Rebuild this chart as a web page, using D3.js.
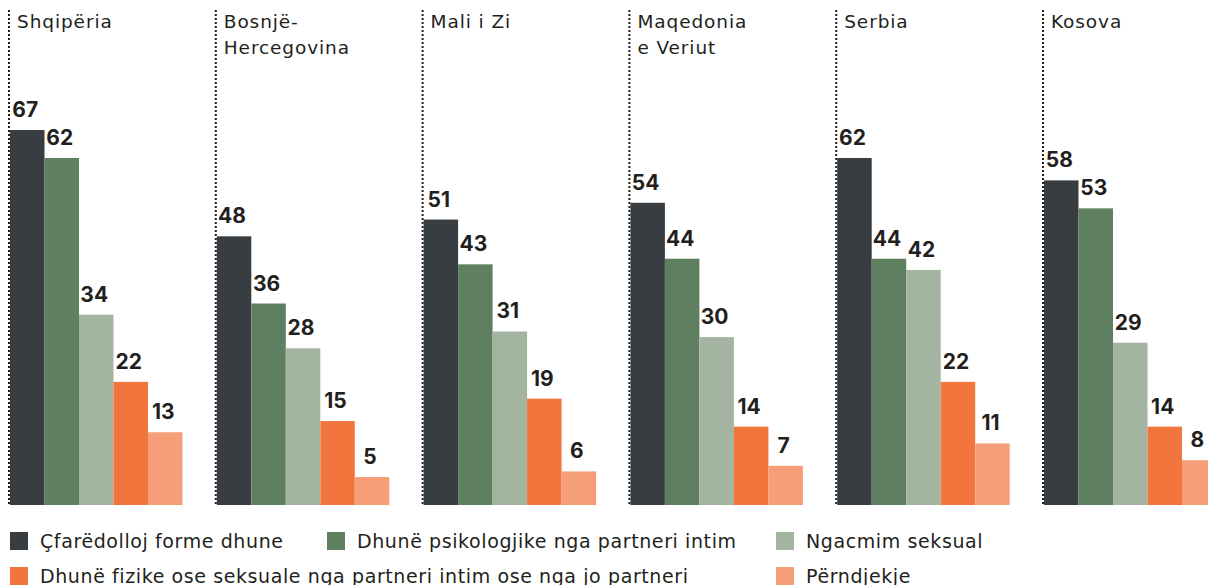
<!DOCTYPE html>
<meta charset="utf-8">
<title>Dhuna ndaj grave</title>
<style>
body { margin: 0; background: #fff; }
svg { display: block; font-family: "DejaVu Sans", sans-serif; }
.grp-label { font-size: 18.5px; letter-spacing: 0.9px; fill: #231f20; }
.val { font-family: "Inter", sans-serif; font-size: 21px; font-weight: 700; fill: #231f20; }
.legend text { font-size: 19px; letter-spacing: 0.6px; fill: #231f20; }
</style>
<svg width="1208" height="585"></svg>
<script src="https://cdn.jsdelivr.net/npm/d3@7"></script>
<script>

// countries (group labels, split on lines)
var countries = ["Shqipëria", "Bosnjë-Hercegovina", "Mali i Zi", "Maqedonia e Veriut", "Serbia", "Kosova"];
var countryLines = [["Shqipëria"], ["Bosnjë-", "Hercegovina"], ["Mali i Zi"], ["Maqedonia", "e Veriut"], ["Serbia"], ["Kosova"]];

// series
var series = [
  "Çfarëdolloj forme dhune",
  "Dhunë psikologjike nga partneri intim",
  "Ngacmim seksual",
  "Dhunë fizike ose seksuale nga partneri intim ose nga jo partneri",
  "Përndjekje"
];
var colors = ["#383d42", "#5f8060", "#a3b5a1", "#f2753e", "#f59e78"];

// values per country, in series order
var anyForm     = [67, 48, 51, 54, 62, 58];
var psychIPV    = [62, 36, 43, 44, 44, 53];
var sexHarass   = [34, 28, 31, 30, 42, 29];
var physSexual  = [22, 15, 19, 14, 22, 14];
var stalking    = [13, 5, 6, 7, 11, 8];
var valuesBySeries = [anyForm, psychIPV, sexHarass, physSexual, stalking];

var svg = d3.select("svg");

var baseY = 505;

var x0 = d3.scaleBand()
    .domain(countries)
    .range([9, 9 + 6 * 206.8])
    .padding(0);

var x1 = d3.scaleBand()
    .domain(series)
    .range([1, 173.5])
    .padding(0);

var y = d3.scaleLinear()
    .domain([0, 67])
    .range([baseY, 130]);

var groups = svg.selectAll("g.country")
  .data(countries)
  .enter().append("g")
    .attr("class", "country")
    .attr("transform", function(d) { return "translate(" + x0(d) + ",0)"; });

// dotted separator
groups.append("line")
    .attr("x1", 0).attr("x2", 0)
    .attr("y1", 10).attr("y2", baseY)
    .attr("stroke", "#231f20")
    .attr("stroke-width", 2)
    .attr("stroke-dasharray", "2,2");

// country labels
groups.append("text")
    .attr("class", "grp-label")
    .attr("x", 8)
    .attr("y", 28)
    .selectAll("tspan")
    .data(function(d, i) { return countryLines[i]; })
    .enter().append("tspan")
      .attr("x", 8)
      .attr("dy", function(d, i) { return i ? 26 : 0; })
      .text(function(d) { return d; });

// bars
groups.each(function(c, ci) {
  var g = d3.select(this);
  var rows = series.map(function(s, si) { return { s: s, v: valuesBySeries[si][ci], c: colors[si] }; });

  g.selectAll("rect")
    .data(rows)
    .enter().append("rect")
      .attr("x", function(d) { return x1(d.s); })
      .attr("y", function(d) { return y(d.v); })
      .attr("width", x1.bandwidth())
      .attr("height", function(d) { return baseY - y(d.v); })
      .attr("fill", function(d) { return d.c; });

  g.selectAll("text.val")
    .data(rows)
    .enter().append("text")
      .attr("class", "val")
      .attr("text-anchor", "middle")
      .attr("x", function(d) { return x1(d.s) + x1.bandwidth() / 2 - 2; })
      .attr("y", function(d) { return y(d.v) - 13; })
      .text(function(d) { return d.v; });
});

// legend
var legendPos = [[10, 532], [327, 532], [776, 532], [10, 567], [776, 567]];
var legend = svg.append("g").attr("class", "legend")
  .selectAll("g")
  .data(series)
  .enter().append("g")
    .attr("transform", function(d, i) { return "translate(" + legendPos[i][0] + "," + legendPos[i][1] + ")"; });

legend.append("rect")
    .attr("width", 18).attr("height", 18)
    .attr("fill", function(d, i) { return colors[i]; });

legend.append("text")
    .attr("x", 30)
    .attr("y", 16)
    .text(function(d) { return d; });

</script>
